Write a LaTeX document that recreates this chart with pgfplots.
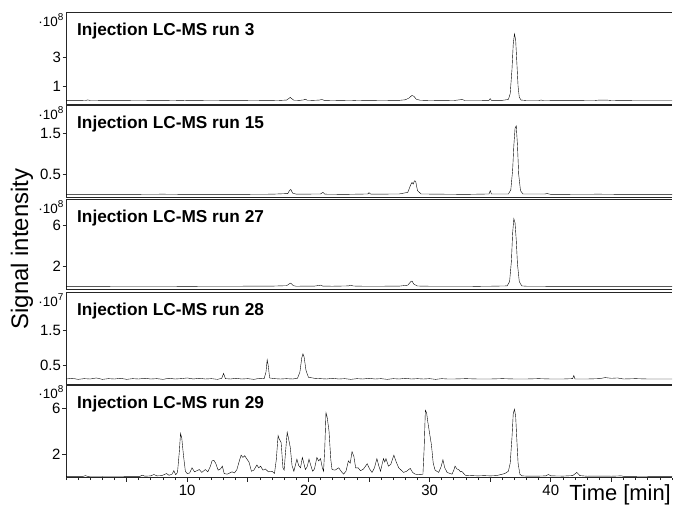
\documentclass[border=0pt]{standalone}
\usepackage{fontspec}
\setmainfont{Liberation Sans}
\usepackage{pgfplots}
\pgfplotsset{compat=1.18}

\pgfplotsset{
  panel/.style={
    scale only axis, width=606bp,
    xmin=0, xmax=50,
    clip mode=individual,
    axis x line*=box, axis y line*=left,
    axis line style={line width=0.9pt, black!85},
    tick style={line width=0.7pt, black!85},
    tick align=outside,
    major tick length=3.5pt, minor tick length=2pt,
    xtick=\empty,
    ytick pos=left,
    yticklabel style={font=\fontsize{15}{15}\selectfont, inner sep=1.5pt},
    xticklabel style={font=\fontsize{15}{15}\selectfont},
    /pgf/number format/assume math mode=true,
    scaled y ticks=false,
    cycle list={{black, line width=1.15pt, mark=none, line join=round}},
  },
}
\tikzset{
  ptitle/.style={anchor=base west, xshift=11bp, yshift=-23bp, inner sep=0pt,
    font=\bfseries\fontsize{17.3}{17.3}\selectfont},
  pscale/.style={anchor=north east, xshift=-2.5bp, yshift=-1bp, inner sep=0pt,
    font=\fontsize{13.5}{13.5}\selectfont},
}
\newcommand{\sclab}[1]{·10\raisebox{0.45em}{\fontsize{10}{10}\selectfont #1}}

\begin{document}
\begin{tikzpicture}
\useasboundingbox (0,0) rectangle (674bp,-506bp);

% ---- run 3 ----
\begin{axis}[panel, at={(66bp,-12bp)}, anchor=north west, height=92bp,
  ymin=-0.21, ymax=6.1, ytick={1,3}]
\addplot coordinates {(0,0.02)(1.0,0.02)(1.6,0.03)(1.8,0.07)(2.0,0.03)(4,0.02)(6,0.03)(8,0.02)(9.6,0.04)(10,0.02)(12,0.03)(14,0.02)(15.5,0.03)(16.7,0.04)(17.5,0.03)(18.2,0.06)(18.4,0.18)(18.5,0.24)(18.6,0.17)(18.8,0.05)(19.3,0.04)(19.6,0.07)(19.75,0.12)(19.9,0.05)(20.4,0.04)(20.9,0.06)(21.1,0.1)(21.3,0.04)(22,0.03)(23.5,0.05)(24,0.03)(25,0.04)(26,0.03)(27.5,0.04)(28.0,0.08)(28.3,0.2)(28.55,0.38)(28.7,0.32)(28.9,0.12)(29.2,0.05)(30,0.03)(31,0.04)(32,0.03)(32.7,0.1)(32.9,0.03)(34,0.03)(34.9,0.04)(35.0,0.16)(35.1,0.04)(36,0.04)(36.5,0.1)(36.65,0.5)(36.8,2.2)(36.9,3.9)(37.0,4.6)(37.1,4.2)(37.2,2.6)(37.3,1.0)(37.4,0.25)(37.55,0.06)(38,0.03)(39,0.03)(39.2,0.06)(39.4,0.03)(41,0.02)(43.6,0.03)(44,0.06)(44.6,0.06)(45,0.03)(46,0.02)(48,0.01)(50,0.01)};
\node[ptitle] at (rel axis cs:0,1) {Injection LC-MS run 3};
\node[pscale] at (rel axis cs:0,1) {\sclab{8}};
\end{axis}

% ---- run 15 ----
\begin{axis}[panel, at={(66bp,-105.7bp)}, anchor=north west, height=91.8bp,
  ymin=-0.066, ymax=2.17, ytick={0.5,1.5}]
\addplot coordinates {(0,0.01)(2,0.01)(5,0.01)(8,0.015)(10,0.01)(14,0.01)(17,0.015)(18.3,0.03)(18.45,0.11)(18.55,0.13)(18.7,0.04)(19,0.015)(21,0.02)(21.2,0.06)(21.35,0.015)(23,0.01)(24.9,0.02)(25.0,0.05)(25.15,0.015)(27.5,0.02)(28.2,0.06)(28.45,0.25)(28.55,0.3)(28.65,0.26)(28.75,0.34)(28.85,0.33)(29.0,0.1)(29.3,0.02)(31,0.015)(33,0.01)(34.9,0.02)(35.0,0.1)(35.1,0.02)(36.5,0.02)(36.7,0.12)(36.85,0.6)(36.95,1.2)(37.05,1.62)(37.15,1.68)(37.25,1.2)(37.35,0.5)(37.5,0.1)(37.7,0.02)(39.5,0.02)(39.7,0.03)(40,0.01)(44,0.015)(46,0.01)(48,0.01)(50,0.01)};
\node[ptitle] at (rel axis cs:0,1) {Injection LC-MS run 15};
\node[pscale] at (rel axis cs:0,1) {\sclab{8}};
\end{axis}

% ---- run 27 ----
\begin{axis}[panel, at={(66bp,-199.2bp)}, anchor=north west, height=89.8bp,
  ymin=-0.22, ymax=8.5, ytick={2,6}]
\addplot coordinates {(0,0.04)(3,0.04)(6,0.05)(10,0.04)(14,0.05)(17,0.06)(18.2,0.1)(18.45,0.3)(18.55,0.35)(18.75,0.1)(19,0.05)(20.5,0.06)(21.0,0.15)(21.2,0.06)(22,0.05)(23.3,0.08)(23.5,0.15)(23.7,0.07)(24.5,0.05)(26,0.05)(27.5,0.06)(28.2,0.15)(28.45,0.5)(28.55,0.55)(28.7,0.25)(29,0.07)(30,0.05)(32,0.05)(34,0.04)(35,0.05)(36.4,0.08)(36.6,0.5)(36.75,2.5)(36.85,5.2)(36.95,6.6)(37.05,6.2)(37.15,4.5)(37.25,2.2)(37.4,0.5)(37.6,0.08)(38,0.05)(40,0.04)(43,0.04)(46,0.04)(48,0.03)(50,0.03)};
\node[ptitle] at (rel axis cs:0,1) {Injection LC-MS run 27};
\node[pscale] at (rel axis cs:0,1) {\sclab{8}};
\end{axis}

% ---- run 28 ----
\begin{axis}[panel, at={(66bp,-292.5bp)}, anchor=north west, height=91.5bp,
  ymin=-0.043, ymax=2.57, ytick={0.5,1.5}]
\addplot coordinates {(0,0.1)(0.5,0.12)(1,0.09)(1.5,0.11)(2,0.1)(2.5,0.13)(3,0.09)(3.5,0.11)(4,0.1)(4.5,0.12)(5,0.09)(5.5,0.11)(6,0.1)(6.5,0.12)(7,0.1)(7.5,0.11)(8,0.09)(8.5,0.12)(9,0.1)(9.5,0.11)(10,0.13)(10.5,0.1)(11,0.12)(11.5,0.1)(12,0.11)(12.5,0.09)(12.85,0.12)(13.0,0.26)(13.15,0.11)(13.6,0.1)(14,0.12)(14.5,0.1)(15,0.11)(15.5,0.09)(16,0.12)(16.35,0.11)(16.5,0.3)(16.6,0.65)(16.7,0.45)(16.8,0.13)(17.2,0.11)(17.7,0.1)(18.2,0.11)(18.7,0.1)(19.1,0.12)(19.3,0.3)(19.45,0.7)(19.55,0.82)(19.65,0.72)(19.8,0.35)(20.0,0.15)(20.5,0.12)(21,0.11)(21.5,0.1)(22,0.12)(22.5,0.1)(23,0.11)(23.5,0.09)(24,0.11)(24.5,0.1)(25,0.12)(25.5,0.1)(26,0.11)(26.5,0.09)(27,0.11)(27.5,0.1)(28,0.12)(28.5,0.1)(29,0.11)(29.5,0.1)(30,0.11)(30.5,0.09)(31,0.11)(31.5,0.1)(32,0.1)(33,0.11)(34,0.1)(35,0.1)(36,0.11)(37,0.1)(38,0.1)(39,0.11)(40,0.1)(41,0.1)(41.8,0.11)(41.9,0.2)(42.0,0.1)(43,0.1)(44,0.11)(44.5,0.14)(45,0.12)(45.5,0.13)(46,0.1)(47,0.11)(48,0.1)(49,0.1)(50,0.1)};
\node[ptitle] at (rel axis cs:0,1) {Injection LC-MS run 28};
\node[pscale] at (rel axis cs:0,1) {\sclab{7}};
\end{axis}

% ---- run 29 ----
\begin{axis}[panel, at={(66bp,-385.5bp)}, anchor=north west, height=92.2bp,
  ymin=-0.06, ymax=7.96, ytick={2,6},
  xtick={5,10,...,45}, xticklabels={,10,,20,,30,,40,},
  minor xtick={0,1,...,50}, xtick pos=left,
  major tick length=4pt, minor tick length=2.5pt]
\addplot coordinates {(0,0.05)(1.4,0.05)(1.6,0.12)(1.8,0.05)(3,0.04)(5,0.05)(6.1,0.06)(6.3,0.16)(6.5,0.07)(7.0,0.1)(7.25,0.22)(7.5,0.1)(7.9,0.12)(8.3,0.3)(8.5,0.15)(8.75,0.25)(8.9,0.55)(9.05,0.2)(9.2,0.4)(9.35,2.2)(9.45,3.8)(9.55,3.4)(9.7,1.8)(9.85,0.5)(10.0,0.3)(10.2,0.35)(10.4,0.8)(10.6,0.45)(10.8,0.55)(11.0,0.65)(11.2,0.4)(11.5,0.65)(11.7,0.45)(11.9,0.9)(12.05,1.4)(12.2,1.45)(12.35,1.2)(12.55,0.6)(12.75,0.7)(12.9,0.95)(13.05,0.3)(13.3,0.25)(13.7,0.45)(13.9,0.35)(14.1,0.65)(14.3,1.4)(14.45,1.9)(14.6,1.7)(14.75,1.85)(14.9,1.6)(15.1,1.3)(15.3,0.5)(15.5,0.6)(15.75,1.05)(15.9,0.8)(16.05,0.95)(16.25,0.6)(16.45,0.7)(16.7,0.45)(17.0,0.5)(17.2,0.3)(17.35,1.5)(17.5,3.6)(17.6,3.3)(17.75,3.0)(17.9,0.8)(18.0,0.6)(18.1,2.0)(18.25,3.9)(18.35,3.4)(18.5,2.6)(18.65,1.0)(18.8,0.5)(19.05,1.55)(19.2,1.0)(19.35,0.8)(19.5,1.7)(19.6,1.3)(19.75,0.65)(19.9,0.9)(20.05,1.55)(20.2,1.0)(20.35,0.5)(20.5,0.7)(20.7,1.7)(20.85,1.4)(21.0,1.6)(21.15,0.8)(21.25,0.5)(21.35,2.5)(21.45,5.6)(21.55,5.2)(21.7,4.0)(21.85,1.5)(21.95,0.65)(22.2,0.6)(22.5,0.8)(22.7,0.5)(22.9,0.25)(23.1,0.5)(23.3,1.4)(23.45,1.2)(23.6,2.2)(23.75,1.8)(23.9,0.8)(24.1,0.8)(24.3,0.55)(24.55,0.7)(24.85,1.15)(25.05,0.7)(25.25,0.4)(25.45,0.8)(25.65,1.6)(25.8,1.0)(25.95,0.5)(26.1,1.2)(26.2,1.6)(26.3,1.3)(26.4,1.6)(26.6,0.95)(26.8,1.1)(27.05,1.9)(27.25,1.3)(27.45,0.8)(27.65,0.6)(27.85,0.4)(28.1,0.5)(28.4,0.75)(28.6,0.4)(28.8,0.25)(29.2,0.2)(29.45,0.25)(29.55,2.5)(29.65,5.8)(29.75,5.6)(29.85,4.8)(30.0,3.8)(30.15,2.8)(30.3,1.2)(30.45,0.6)(30.6,0.5)(30.75,0.4)(30.95,0.9)(31.1,1.5)(31.25,0.8)(31.45,0.4)(31.7,0.3)(31.85,0.25)(32.0,0.6)(32.1,0.95)(32.25,0.7)(32.4,0.65)(32.55,0.45)(32.65,0.5)(32.95,0.15)(33.5,0.12)(34,0.1)(34.5,0.12)(35,0.1)(35.5,0.12)(35.9,0.22)(36.2,0.3)(36.5,0.5)(36.65,1.2)(36.8,3.5)(36.9,5.5)(37.0,5.9)(37.1,5.3)(37.2,3.2)(37.3,1.2)(37.45,0.25)(37.6,0.1)(38,0.08)(39,0.08)(39.6,0.1)(39.8,0.22)(40.0,0.1)(41,0.08)(41.8,0.12)(42.15,0.4)(42.4,0.12)(43,0.07)(44,0.08)(45,0.07)(45.8,0.1)(46,0.06)(48,0.04)(50,0.04)};
\node[ptitle] at (rel axis cs:0,1) {Injection LC-MS run 29};
\node[pscale, yshift=1.5bp] at (rel axis cs:0,1) {\sclab{8}};
\end{axis}

\node[rotate=90, anchor=base, inner sep=0pt, font=\fontsize{24}{24}\selectfont] at (28bp,-249bp) {Signal intensity};
\node[anchor=base east, inner sep=0pt, font=\fontsize{22}{22}\selectfont] at (671bp,-500.5bp) {Time [min]};
\end{tikzpicture}
\end{document}
